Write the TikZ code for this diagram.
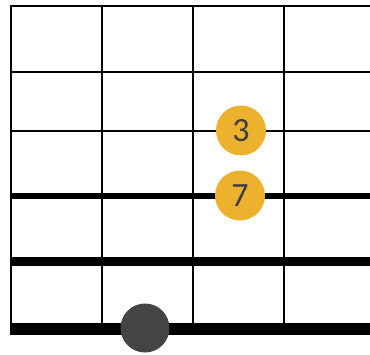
\documentclass[tikz,border=0pt]{standalone}
\usepackage{fontspec}
\setmainfont{Carlito}
\definecolor{gold}{HTML}{ECB22E}
\definecolor{dark}{HTML}{444444}
\definecolor{txt}{HTML}{3F3F3F}
\begin{document}
\begin{tikzpicture}[x=1pt,y=-1pt,
  thin/.style={line width=2pt,black},
  dot/.style={circle,fill=gold,minimum size=50pt,inner sep=0pt,text=txt,font=\fontsize{34}{34}\selectfont},
  root/.style={circle,fill=dark,minimum size=49pt,inner sep=0pt}]
\useasboundingbox (0,0) rectangle (370,354);
% vertical lines
\foreach \x in {11,102,193,284} \draw[thin] (\x,5.5) -- (\x,323);
% thin horizontal lines
\draw[thin] (10,5.5) -- (370,5.5);
\draw[thin] (10,71.5) -- (370,71.5);
\draw[thin] (10,130.5) -- (370,130.5);
% thick lines
\draw[line width=6pt] (10,196) -- (370,196);
\draw[line width=9pt] (10,261.5) -- (370,261.5);
\draw[line width=12pt] (10,329) -- (370,329);
\node[dot] (n3) at (241,130.5) {3};
\node[dot] (n7) at (240,195.5) {7};
\node[root] (r) at (145,328) {};
\end{tikzpicture}
\end{document}
